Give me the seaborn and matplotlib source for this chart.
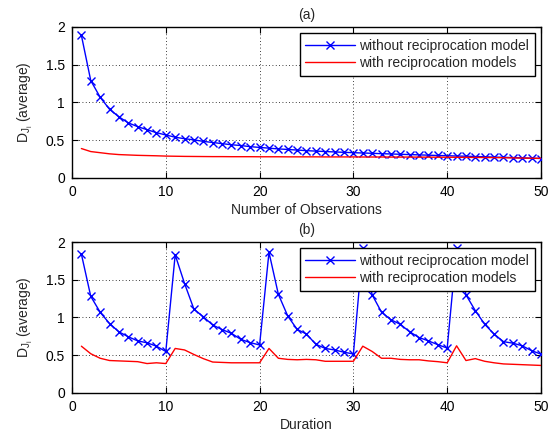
import matplotlib
matplotlib.use("Agg")
import matplotlib.pyplot as plt
import seaborn as sns
import pandas as pd
import numpy as np

# ---------------- data ----------------
x_vals = list(range(1, 51))

obs_without = [1.89, 1.29, 1.07, 0.91, 0.81, 0.73, 0.68, 0.64, 0.60, 0.57,
               0.54, 0.52, 0.505, 0.485, 0.47, 0.455, 0.44, 0.43, 0.415, 0.405,
               0.395, 0.385, 0.378, 0.370, 0.362, 0.356, 0.350, 0.345, 0.340, 0.335,
               0.331, 0.327, 0.322, 0.318, 0.314, 0.310, 0.306, 0.302, 0.298, 0.295,
               0.291, 0.288, 0.284, 0.281, 0.277, 0.274, 0.270, 0.266, 0.262, 0.258]

obs_with = [0.39, 0.35, 0.335, 0.32, 0.31, 0.305, 0.30, 0.297, 0.294, 0.29,
            0.288, 0.286, 0.285, 0.284, 0.283, 0.283, 0.282, 0.282, 0.282, 0.281,
            0.281, 0.281, 0.280, 0.280, 0.280, 0.280, 0.279, 0.279, 0.279, 0.279,
            0.278, 0.278, 0.278, 0.277, 0.277, 0.277, 0.276, 0.276, 0.275, 0.275,
            0.274, 0.273, 0.272, 0.271, 0.270, 0.268, 0.266, 0.264, 0.262, 0.260]

dur_without = [1.84, 1.28, 1.07, 0.92, 0.81, 0.745, 0.69, 0.665, 0.62, 0.55,
               1.83, 1.45, 1.11, 1.01, 0.90, 0.84, 0.79, 0.71, 0.667, 0.636,
               1.863, 1.307, 1.02, 0.843, 0.78, 0.645, 0.59, 0.57, 0.54, 0.517,
               1.92, 1.30, 1.07, 0.97, 0.91, 0.81, 0.735, 0.69, 0.64, 0.595,
               1.92, 1.30, 1.09, 0.91, 0.78, 0.68, 0.66, 0.625, 0.56, 0.515]

dur_with = [0.62, 0.52, 0.46, 0.43, 0.425, 0.42, 0.415, 0.39, 0.40, 0.39,
            0.59, 0.57, 0.51, 0.455, 0.41, 0.405, 0.40, 0.40, 0.40, 0.40,
            0.59, 0.46, 0.445, 0.44, 0.445, 0.44, 0.42, 0.42, 0.42, 0.42,
            0.62, 0.55, 0.46, 0.46, 0.445, 0.44, 0.44, 0.425, 0.415, 0.40,
            0.625, 0.43, 0.455, 0.42, 0.40, 0.385, 0.38, 0.375, 0.37, 0.365]

label_without = "without reciprocation model"
label_with = "with reciprocation models"
titles = ["(a)", "(b)"]
xlabels = ["Number of Observations", "Duration"]
ylabel = r"$\mathrm{D}_{\mathrm{J}_{\mathrm{i}}}$ (average)"
xticks = [0, 10, 20, 30, 40, 50]
yticks = [0, 0.5, 1, 1.5, 2]
ytick_labels = ["0", "0.5", "1", "1.5", "2"]

# ---------------- style ----------------
sns.set_theme(style="ticks")
plt.rcParams["font.family"] = ["Liberation Sans", "DejaVu Sans"]
plt.rcParams["mathtext.fontset"] = "custom"
plt.rcParams["mathtext.rm"] = "Liberation Sans"
plt.rcParams["mathtext.it"] = "Liberation Sans:italic"
plt.rcParams["font.size"] = 10

fig = plt.figure(figsize=(5.59, 4.32), dpi=100)
ax_a = fig.add_axes([0.1288, 0.588, 0.8390, 0.3495])
ax_b = fig.add_axes([0.1288, 0.0903, 0.8390, 0.3495])

panels = [(ax_a, obs_without, obs_with), (ax_b, dur_without, dur_with)]

for i, (ax, yw, yr) in enumerate(panels):
    df = pd.DataFrame({"x": x_vals, "without": yw, "with": yr})
    sns.lineplot(data=df, x="x", y="without", ax=ax, color="#0000ff",
                 marker="x", markersize=6, markeredgewidth=1.0,
                 markeredgecolor="#0000ff", markerfacecolor="#0000ff",
                 linewidth=1.0, label=label_without, zorder=3)
    sns.lineplot(data=df, x="x", y="with", ax=ax, color="#ff0000",
                 linewidth=1.0, label=label_with, zorder=3)
    ax.set_xlim(0, 50)
    ax.set_ylim(0, 2)
    ax.set_xticks(xticks)
    ax.set_yticks(yticks)
    ax.set_yticklabels(ytick_labels)
    ax.set_xlabel(xlabels[i], fontsize=10, labelpad=3)
    ax.set_ylabel(ylabel, fontsize=10, labelpad=8)
    ax.set_title(titles[i], fontsize=10, pad=6)
    ax.grid(True, color="black", linestyle=(0, (1, 3)), linewidth=0.6)
    ax.set_axisbelow(True)
    for s in ax.spines.values():
        s.set_visible(True)
        s.set_color("black")
        s.set_linewidth(1.0)
    ax.tick_params(direction="in", top=True, right=True, length=4, width=0.8,
                   labelsize=10, colors="black", pad=5)
    leg = ax.legend(loc="upper right", fontsize=10, frameon=True, fancybox=False,
                    edgecolor="black", framealpha=1, handlelength=3.6,
                    borderaxespad=0.45, labelspacing=0.25, borderpad=0.4,
                    handletextpad=0.3)
    leg.get_frame().set_linewidth(1.0)
    leg.set_zorder(10)

fig.savefig("out.png", dpi=100)
